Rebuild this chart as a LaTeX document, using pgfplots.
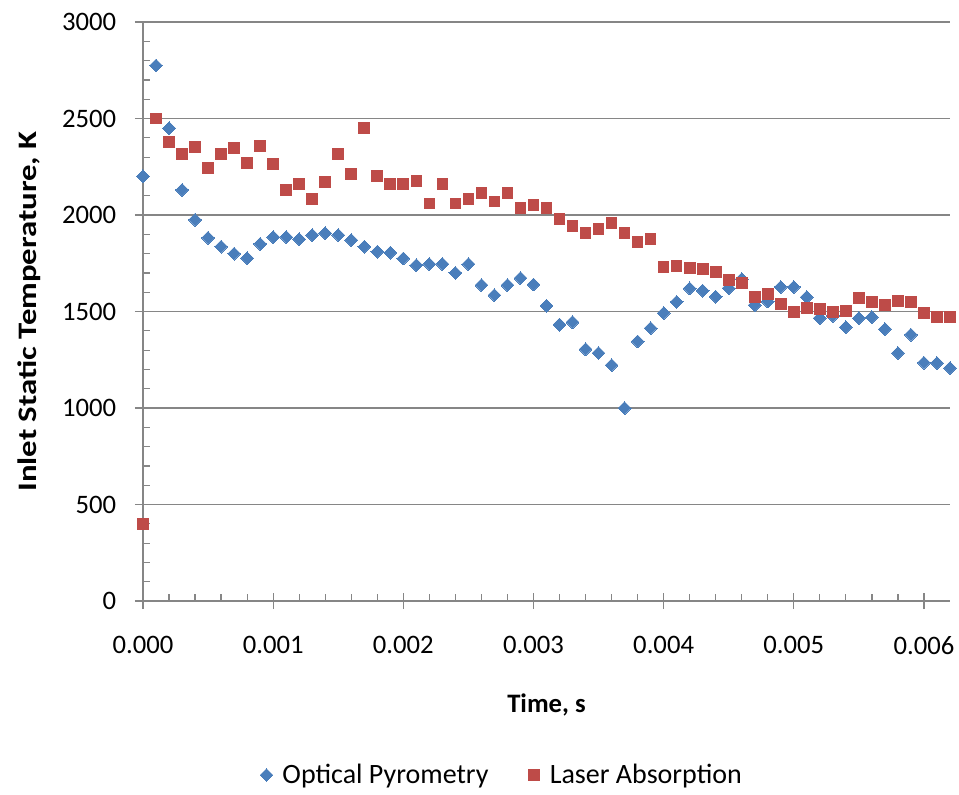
\documentclass[border=0pt]{standalone}
\usepackage{fontspec}
\setmainfont{Carlito}
\usepackage{pgfplots}
\pgfplotsset{compat=1.18}
\usepackage{pgfplotstable}
\definecolor{opblue}{HTML}{4A7EBB}
\definecolor{lared}{HTML}{BE4B48}
\definecolor{gridgray}{HTML}{868686}
\pgfplotstableread{
x y
0.0000 2200
0.0001 2775
0.0002 2450
0.0003 2130
0.0004 1975
0.0005 1882
0.0006 1836
0.0007 1800
0.0008 1777
0.0009 1850
0.0010 1886
0.0011 1886
0.0012 1875
0.0013 1896
0.0014 1906
0.0015 1896
0.0016 1870
0.0017 1836
0.0018 1810
0.0019 1805
0.0020 1775
0.0021 1740
0.0022 1746
0.0023 1746
0.0024 1700
0.0025 1746
0.0026 1637
0.0027 1585
0.0028 1637
0.0029 1673
0.0030 1640
0.0031 1530
0.0032 1432
0.0033 1445
0.0034 1305
0.0035 1285
0.0036 1222
0.0037 1000
0.0038 1345
0.0039 1414
0.0040 1492
0.0041 1550
0.0042 1620
0.0043 1608
0.0044 1577
0.0045 1621
0.0046 1668
0.0047 1533
0.0048 1552
0.0049 1627
0.0050 1627
0.0051 1575
0.0052 1466
0.0053 1478
0.0054 1419
0.0055 1466
0.0056 1471
0.0057 1409
0.0058 1285
0.0059 1380
0.0060 1235
0.0061 1233
0.0062 1207
}\optical
\pgfplotstableread{
x y
0.0000 400
0.0001 2500
0.0002 2378
0.0003 2315
0.0004 2352
0.0005 2243
0.0006 2315
0.0007 2347
0.0008 2269
0.0009 2357
0.0010 2264
0.0011 2129
0.0012 2160
0.0013 2082
0.0014 2170
0.0015 2315
0.0016 2212
0.0017 2450
0.0018 2202
0.0019 2160
0.0020 2160
0.0021 2175
0.0022 2060
0.0023 2160
0.0024 2060
0.0025 2082
0.0026 2113
0.0027 2070
0.0028 2113
0.0029 2035
0.0030 2051
0.0031 2035
0.0032 1979
0.0033 1943
0.0034 1906
0.0035 1927
0.0036 1958
0.0037 1906
0.0038 1860
0.0039 1875
0.0040 1730
0.0041 1735
0.0042 1725
0.0043 1720
0.0044 1704
0.0045 1663
0.0046 1647
0.0047 1575
0.0048 1590
0.0049 1538
0.0050 1497
0.0051 1518
0.0052 1513
0.0053 1497
0.0054 1502
0.0055 1569
0.0056 1549
0.0057 1533
0.0058 1554
0.0059 1549
0.0060 1492
0.0061 1471
0.0062 1471
}\laser
\begin{document}
\begin{tikzpicture}
\begin{axis}[
  scale only axis,
  width=605.25pt, height=434.25pt,
  xmin=0, xmax=0.0062, ymin=0, ymax=3000,
  axis x line*=bottom, axis y line*=left,
  axis line style={gridgray, line width=0.9pt},
  xtick={0,0.001,0.002,0.003,0.004,0.005,0.006},
  ytick={0,500,1000,1500,2000,2500,3000},
  minor x tick num=4, minor y tick num=4,
  tick align=inside,
  major tick length=12pt, minor tick length=5pt,
  major x tick style={yshift=-6pt},
  major y tick style={xshift=-6pt},
  tick style={gridgray, line width=0.9pt},
  ymajorgrids,
  major grid style={gridgray, line width=0.9pt},
  scaled x ticks=false,
  /pgf/number format/assume math mode=true,
  x tick label style={/pgf/number format/fixed, /pgf/number format/fixed zerofill, /pgf/number format/precision=3},
  y tick label style={/pgf/number format/fixed, /pgf/number format/1000 sep={}},
  every tick label/.append style={font=\fontsize{20}{24}\selectfont, inner sep=0pt},
  xticklabel style={anchor=north, yshift=-26.25pt},
  yticklabel style={anchor=east, xshift=-20pt},
  xlabel={\textbf{Time, s}},
  ylabel={\textbf{Inlet Static Temperature, K}},
  label style={font=\fontsize{20}{24}\selectfont, inner sep=0pt},
  xlabel style={at={(axis description cs:0.5,-0.1796)}, anchor=center},
  ylabel style={at={(axis description cs:-0.1404,0.5)}, anchor=center, xscale=1.23},
  legend columns=2,
  legend style={at={(0.4436,-0.3005)}, anchor=center, draw=none, fill=none,
    font=\fontsize{21}{25}\selectfont, nodes={inner sep=0pt},
    /tikz/every even column/.append style={column sep=30pt}},
  legend image code/.code={\path[draw=none] (0pt,0pt) -- (12pt,0pt); \draw[#1] plot coordinates {(0pt,0pt)};},
  clip=false,
]
\addplot[only marks, color=opblue, mark=square*, mark size=3.4pt, mark options={rotate=45, draw=opblue, fill=opblue, line width=0pt}] table[x=x, y=y] {\optical};
\addlegendentry{Optical Pyrometry}
\addplot[only marks, color=lared, mark=square*, mark size=4pt, mark options={draw=lared, fill=lared, line width=0pt}] table[x=x, y=y] {\laser};
\addlegendentry{Laser Absorption}
\end{axis}
\pgfresetboundingbox
\path (-107.25pt,-144.75pt) rectangle (612pt,450.75pt);
\end{tikzpicture}
\end{document}
